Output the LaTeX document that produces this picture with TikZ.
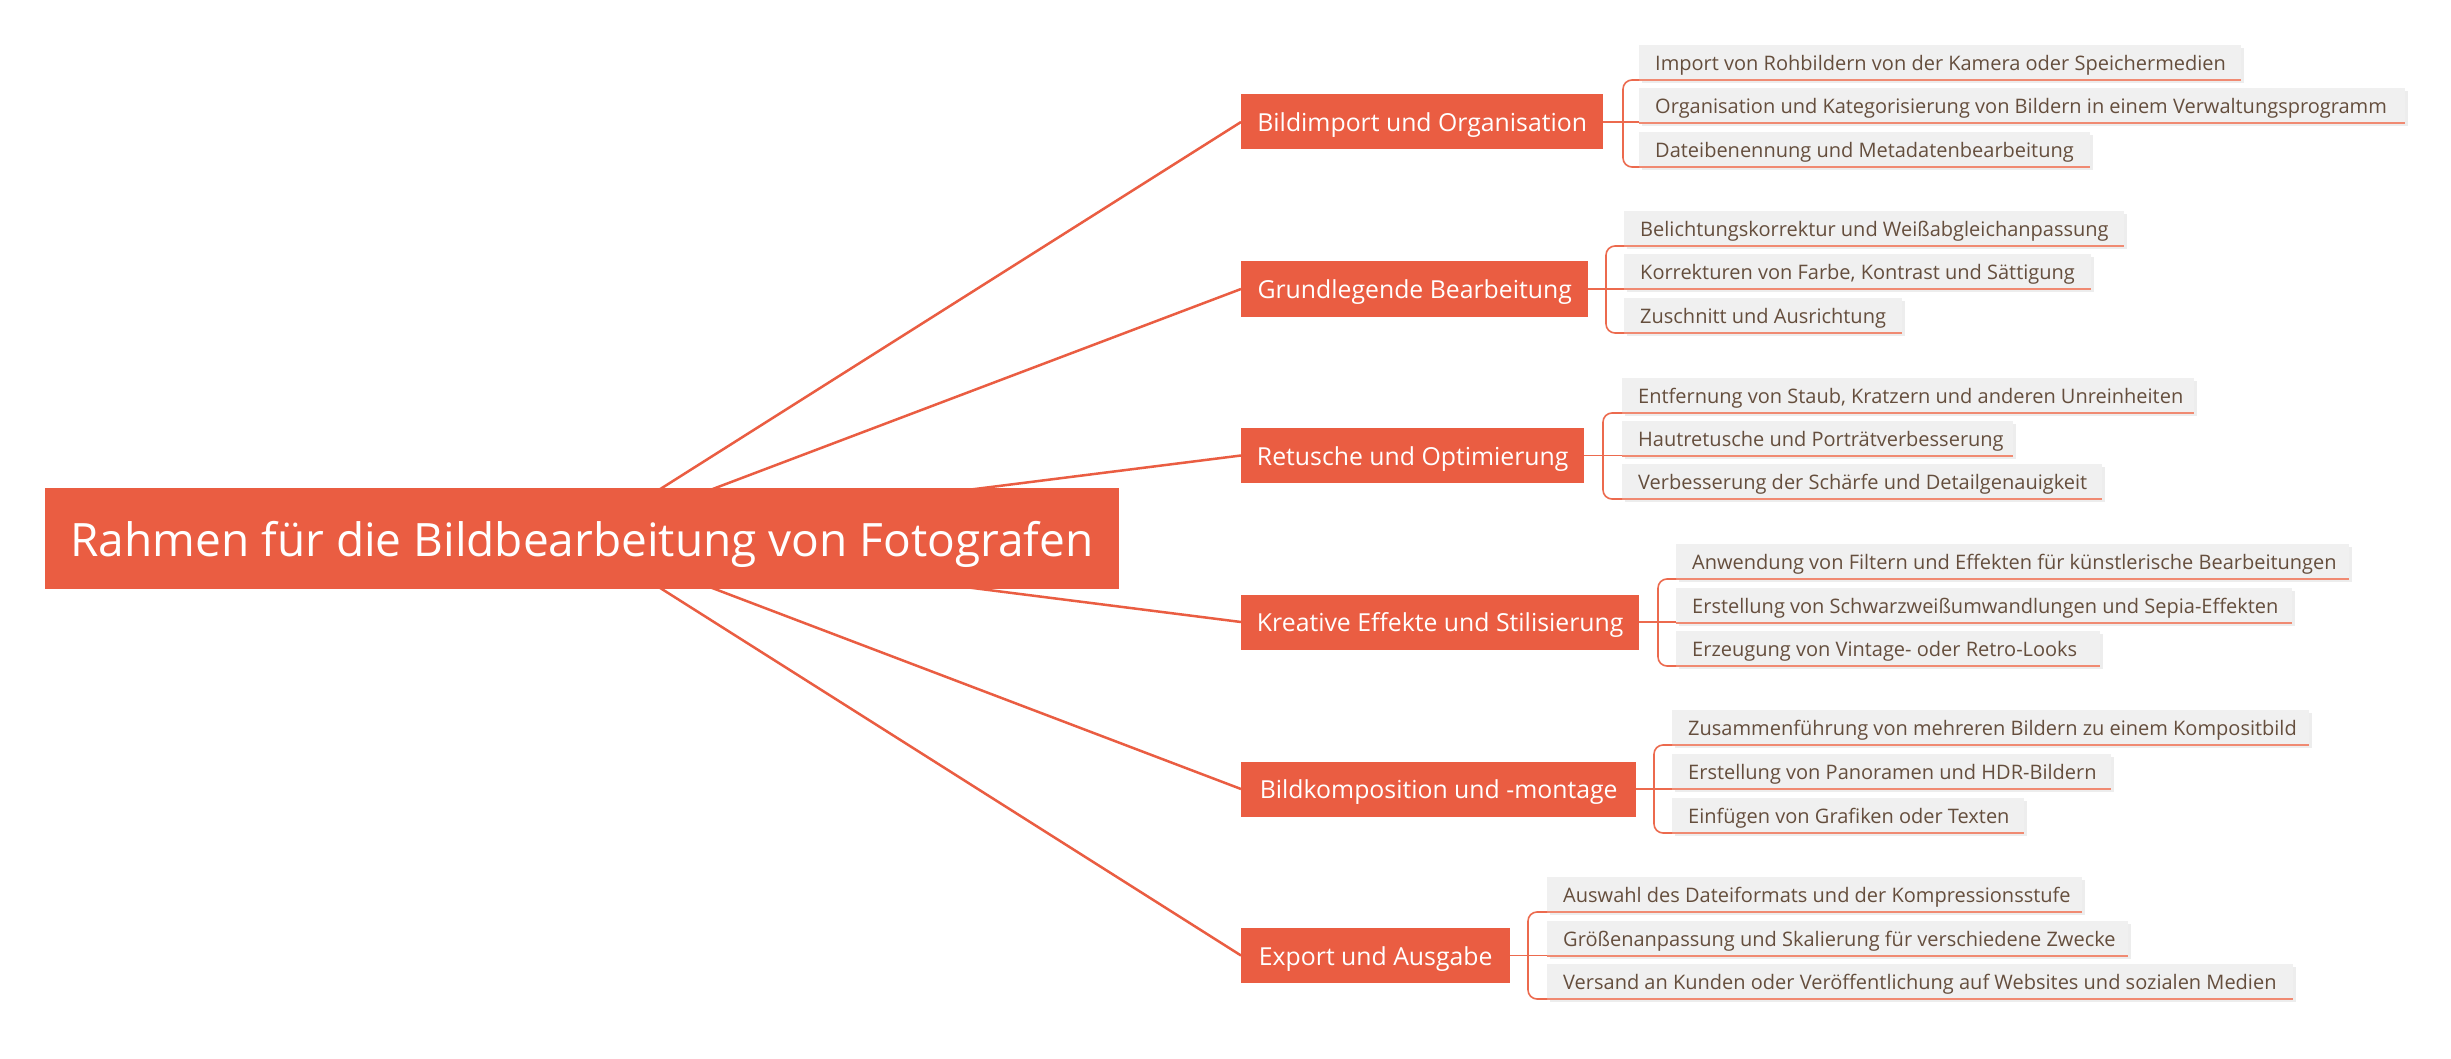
\documentclass[tikz,border=0pt]{standalone}
\usepackage{fontspec}
\setmainfont{Open Sans}
\usetikzlibrary{shadows}
\definecolor{brorange}{HTML}{EA5D42}
\definecolor{leaftext}{HTML}{654E3D}
\definecolor{leaffill}{HTML}{F0F0F0}
\definecolor{uline}{HTML}{F08A72}
\definecolor{bracketc}{HTML}{EC6A4E}
\pgfdeclarelayer{bottom}
\pgfdeclarelayer{background}
\pgfsetlayers{bottom,background,main}
\tikzset{
  rootbox/.style={fill=brorange, text=white, font=\fontsize{46}{54}\selectfont, inner sep=0pt, minimum height=101pt, text height=36.4pt, text depth=0pt},
  branchbox/.style={fill=brorange, text=white, font=\fontsize{24.8}{30}\selectfont, inner sep=0pt, minimum height=55pt, anchor=west, text height=19pt, text depth=0pt},
  leafbox/.style={fill=leaffill, text=leaftext, font=\fontsize{20}{24}\selectfont, inner xsep=16pt, inner ysep=0pt, minimum height=35pt, anchor=south west, text height=16.4pt, text depth=0pt,
    drop shadow={shadow xshift=3pt, shadow yshift=-3pt, fill=black, opacity=0.07}},
  mainline/.style={draw=brorange, line width=2.5pt},
  ulinestyle/.style={draw=uline, line width=1.6pt},
  bracketline/.style={draw=bracketc, line width=1.6pt, rounded corners=9pt},
}
\newcommand{\leafnode}[5]{%
  \pgfmathsetmacro{\lw}{#3-#2}%
  \node[leafbox, minimum width=\lw pt] (#1) at (#2,#4) {\makebox[\dimexpr\lw pt-32pt\relax][l]{#5}};%
  \draw[ulinestyle] (#1.south west) -- (#1.south east);%
}
\newcommand{\groupbracket}[5]{% branch, bracket x, leaf1, leaf2, leaf3
  \draw[bracketline] (#3.south west) -- (#2,0 |- #3.south west) -- (#2,0 |- #5.south west) -- (#5.south west);%
  \draw[bracketline] (#1.east) -- (#1.east -| #4.south west);%
}
\begin{document}
\begin{tikzpicture}[x=1pt,y=-1pt]
\begin{pgfonlayer}{bottom}
\fill[white] (0,0) rectangle (2451,1059);
\end{pgfonlayer}
\useasboundingbox (0,0) rectangle (2451,1059);

\node[rootbox, minimum width=1074pt] (root) at (582,538.5) {Rahmen für die Bildbearbeitung von Fotografen};

\node[branchbox, minimum width=362pt] (b1) at (1241,122) {Bildimport und Organisation};
\node[branchbox, minimum width=347pt] (b2) at (1241,289) {Grundlegende Bearbeitung};
\node[branchbox, minimum width=343pt] (b3) at (1241,455.5) {Retusche und Optimierung};
\node[branchbox, minimum width=398pt] (b4) at (1241,622) {Kreative Effekte und Stilisierung};
\node[branchbox, minimum width=395pt] (b5) at (1241,789) {Bildkomposition und -montage};
\node[branchbox, minimum width=269pt] (b6) at (1241,955.5) {Export und Ausgabe};

\begin{pgfonlayer}{background}
\foreach \b in {b1,b2,b3,b4,b5,b6}{\draw[mainline] (root.center) -- (\b.west);}
\end{pgfonlayer}

% group 1
\leafnode{l11}{1639}{2241}{80}{Import von Rohbildern von der Kamera oder Speichermedien}
\leafnode{l12}{1639}{2405}{123}{Organisation und Kategorisierung von Bildern in einem Verwaltungsprogramm}
\leafnode{l13}{1639}{2090}{167}{Dateibenennung und Metadatenbearbeitung}
\groupbracket{b1}{1623}{l11}{l12}{l13}
% group 2
\leafnode{l21}{1624}{2124}{246}{Belichtungskorrektur und Weißabgleichanpassung}
\leafnode{l22}{1624}{2091}{289}{Korrekturen von Farbe, Kontrast und Sättigung}
\leafnode{l23}{1624}{1902}{333}{Zuschnitt und Ausrichtung}
\groupbracket{b2}{1606}{l21}{l22}{l23}
% group 3
\leafnode{l31}{1622}{2194}{413}{Entfernung von Staub, Kratzern und anderen Unreinheiten}
\leafnode{l32}{1622}{2013}{456}{Hautretusche und Porträtverbesserung}
\leafnode{l33}{1622}{2102}{499}{Verbesserung der Schärfe und Detailgenauigkeit}
\groupbracket{b3}{1603}{l31}{l32}{l33}
% group 4
\leafnode{l41}{1676}{2349}{579}{Anwendung von Filtern und Effekten für künstlerische Bearbeitungen}
\leafnode{l42}{1676}{2292}{623}{Erstellung von Schwarzweißumwandlungen und Sepia-Effekten}
\leafnode{l43}{1676}{2100}{666}{Erzeugung von Vintage- oder Retro-Looks}
\groupbracket{b4}{1658}{l41}{l42}{l43}
% group 5
\leafnode{l51}{1672}{2309}{745}{Zusammenführung von mehreren Bildern zu einem Kompositbild}
\leafnode{l52}{1672}{2111}{789}{Erstellung von Panoramen und HDR-Bildern}
\leafnode{l53}{1672}{2024}{833}{Einfügen von Grafiken oder Texten}
\groupbracket{b5}{1654}{l51}{l52}{l53}
% group 6
\leafnode{l61}{1547}{2082}{912}{Auswahl des Dateiformats und der Kompressionsstufe}
\leafnode{l62}{1547}{2128}{956}{Größenanpassung und Skalierung für verschiedene Zwecke}
\leafnode{l63}{1547}{2293}{999}{Versand an Kunden oder Veröffentlichung auf Websites und sozialen Medien}
\groupbracket{b6}{1528}{l61}{l62}{l63}
\end{tikzpicture}
\end{document}
